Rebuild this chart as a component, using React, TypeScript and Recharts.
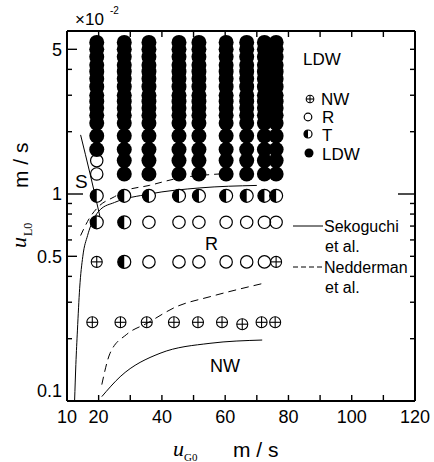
import { ComposedChart, Line, Scatter, XAxis, YAxis } from 'recharts'

// gas velocity columns (m/s) of the measured points
const gasCols = [19.4, 28.1, 35.9, 45.4, 51.7, 60.3, 66.8, 72.4, 76.1]
// liquid velocity levels (x10^-2 m/s)
const denseLevels = [2.2, 2.4, 2.6, 2.8, 3.0, 3.3, 3.6, 3.9, 4.2, 4.6, 5.0, 5.4]
const ldwRows = [1.25, 1.45, 1.64, 1.91]
const ldwCol1Rows = [1.64, 1.91]
const rCol1Rows = [1.25, 1.45]
const tRow = 0.98
const midRow = 0.73
const lowRow = 0.47
const nwRowX = [18.0, 26.9, 35.2, 43.8, 51.4, 59.0, 65.4, 71.5, 75.8]
const nwRowY = [0.24, 0.24, 0.24, 0.24, 0.24, 0.24, 0.235, 0.24, 0.24]

// boundary curves
const sekoS = [
  { x: 14.3, y: 1.93 },
  { x: 17.3, y: 1.25 },
  { x: 20.4, y: 0.78 },
]
const sekoMain = [
  { x: 12.4, y: 0.1 },
  { x: 12.8, y: 0.15 },
  { x: 13.3, y: 0.22 },
  { x: 14.0, y: 0.35 },
  { x: 15.0, y: 0.5 },
  { x: 16.5, y: 0.63 },
  { x: 18.5, y: 0.76 },
  { x: 20.5, y: 0.84 },
  { x: 25, y: 0.91 },
  { x: 36, y: 1.0 },
  { x: 52, y: 1.07 },
  { x: 70, y: 1.1 },
]
const sekoLow = [
  { x: 21, y: 0.105 },
  { x: 26.8, y: 0.131 },
  { x: 39.4, y: 0.17 },
  { x: 55.2, y: 0.19 },
  { x: 71.7, y: 0.197 },
]
const nedUpper = [
  { x: 14.3, y: 0.63 },
  { x: 17, y: 0.76 },
  { x: 20, y: 0.87 },
  { x: 25, y: 0.97 },
  { x: 28, y: 1.03 },
  { x: 36, y: 1.1 },
  { x: 45, y: 1.19 },
  { x: 55, y: 1.24 },
  { x: 64, y: 1.26 },
]
const nedLower = [
  { x: 21, y: 0.12 },
  { x: 23.6, y: 0.17 },
  { x: 28.9, y: 0.21 },
  { x: 35.2, y: 0.237 },
  { x: 44.7, y: 0.286 },
  { x: 55.2, y: 0.319 },
  { x: 72, y: 0.37 },
]

const xTicks = [10, 20, 30, 40, 50, 60, 70, 80, 90, 100, 110, 120]
const xLabels = [10, 20, 40, 60, 80, 100, 120]
const yTicks = [0.1, 0.2, 0.3, 0.4, 0.5, 0.6, 0.7, 0.8, 0.9, 1, 2, 3, 4, 5]
const yLabels = [0.1, 0.5, 1, 5]

const ldwData = [
  ...gasCols.flatMap((x) => denseLevels.map((y) => ({ x, y }))),
  ...gasCols.slice(1).flatMap((x) => ldwRows.map((y) => ({ x, y }))),
  ...ldwCol1Rows.map((y) => ({ x: gasCols[0], y })),
]
const rData = [
  ...rCol1Rows.map((y) => ({ x: gasCols[0], y })),
  ...gasCols.slice(2).map((x) => ({ x, y: midRow })),
  ...gasCols.slice(2, 8).map((x) => ({ x, y: lowRow })),
]
const tData = [
  ...gasCols.map((x) => ({ x, y: tRow })),
  ...gasCols.slice(0, 2).map((x) => ({ x, y: midRow })),
  { x: gasCols[1], y: lowRow },
]
const nwData = [
  ...nwRowX.map((x, i) => ({ x, y: nwRowY[i] })),
  { x: gasCols[0], y: lowRow },
  { x: gasCols[8], y: lowRow },
]

const FONT = '"Liberation Sans", Arial, sans-serif'
const SERIF = '"Liberation Serif", "Times New Roman", serif'

// plot frame edges (follow from the chart margins + axis sizes)
const LEFT = 67
const RIGHT = 415
const TOP = 31
const BOTTOM = 401

function filled(cx: number, cy: number, r: number) {
  return <circle cx={cx} cy={cy} r={r} fill="#000" />
}
function open(cx: number, cy: number, r: number) {
  return <circle cx={cx} cy={cy} r={r} fill="none" stroke="#000" strokeWidth={1.2} />
}
function half(cx: number, cy: number, r: number) {
  return (
    <g>
      <circle cx={cx} cy={cy} r={r} fill="#fff" stroke="#000" strokeWidth={1.2} />
      <path d={`M${cx},${cy - r} A${r},${r} 0 0 0 ${cx},${cy + r} Z`} fill="#000" />
    </g>
  )
}
function cross(cx: number, cy: number, r: number) {
  return (
    <g stroke="#000" strokeWidth={1.1} fill="none">
      <circle cx={cx} cy={cy} r={r} />
      <line x1={cx - r} x2={cx + r} y1={cy} y2={cy} />
      <line x1={cx} x2={cx} y1={cy - r} y2={cy + r} />
    </g>
  )
}

function LeftTick(props: any) {
  const { y, payload } = props
  const v = payload.value
  const len = v === 1 ? 16 : yLabels.includes(v) ? 10 : 5
  return (
    <g>
      {v > 0.1 && <line x1={LEFT} x2={LEFT + len} y1={y} y2={y} stroke="#000" strokeWidth={1.4} />}
      {yLabels.includes(v) && (
        <text x={LEFT - 5} y={v === 0.1 ? y - 10 : y} dy="0.36em" textAnchor="end" fontSize={18} fontFamily={FONT} fill="#000">
          {v}
        </text>
      )}
    </g>
  )
}
function RightTick(props: any) {
  const { y, payload } = props
  const v = payload.value
  const len = v === 1 ? 17 : 5
  if (v <= 0.1) return <g />
  return <line x1={RIGHT} x2={RIGHT - len} y1={y} y2={y} stroke="#000" strokeWidth={1.4} />
}
// bottom axis ticks; the mirrored top-frame ticks share the same x
function BottomTick(props: any) {
  const { x, payload } = props
  const v = payload.value
  const inner = v > 10 && v < 120
  return (
    <g>
      {inner && <line x1={x} x2={x} y1={BOTTOM} y2={BOTTOM - 6} stroke="#000" strokeWidth={1.4} />}
      {inner && <line x1={x} x2={x} y1={TOP} y2={TOP + 6} stroke="#000" strokeWidth={1.4} />}
      {xLabels.includes(v) && (
        <text x={x} y={BOTTOM + 22} textAnchor="middle" fontSize={18} fontFamily={FONT} fill="#000">
          {v}
        </text>
      )}
    </g>
  )
}

export default function App() {
  return (
    <div style={{ position: 'absolute', left: 0, top: 0, width: 434, height: 462, background: '#fff', overflow: 'hidden' }}>
      <ComposedChart width={434} height={462} margin={{ top: TOP - 10, right: 434 - RIGHT - 10, bottom: 462 - BOTTOM - 10, left: LEFT - 10 }}>
        <XAxis
          dataKey="x"
          type="number"
          domain={[10, 120]}
          allowDataOverflow
          ticks={xTicks}
          interval={0}
          height={10}
          tickSize={0}
          tickMargin={0}
          tickLine={false}
          tick={<BottomTick />}
          axisLine={{ stroke: '#000', strokeWidth: 2 }}
        />
        <XAxis
          xAxisId="top"
          orientation="top"
          type="number"
          domain={[10, 120]}
          allowDataOverflow
          height={10}
          tick={false}
          tickLine={false}
          axisLine={{ stroke: '#000', strokeWidth: 2 }}
        />
        <YAxis
          dataKey="y"
          type="number"
          scale="log"
          domain={[0.1, 6.13]}
          allowDataOverflow
          ticks={yTicks}
          interval={0}
          width={10}
          tickSize={0}
          tickMargin={0}
          tickLine={false}
          tick={<LeftTick />}
          axisLine={{ stroke: '#000', strokeWidth: 2 }}
        />
        <YAxis
          yAxisId="right"
          orientation="right"
          type="number"
          scale="log"
          domain={[0.1, 6.13]}
          allowDataOverflow
          ticks={yTicks}
          interval={0}
          width={10}
          tickSize={0}
          tickMargin={0}
          tickLine={false}
          tick={<RightTick />}
          axisLine={{ stroke: '#000', strokeWidth: 2 }}
        />
        <Scatter data={ldwData} isAnimationActive={false} shape={(p: any) => filled(p.cx, p.cy, 7.5)} />
        <Scatter data={rData} isAnimationActive={false} shape={(p: any) => open(p.cx, p.cy, 6.2)} />
        <Scatter data={tData} isAnimationActive={false} shape={(p: any) => half(p.cx, p.cy, 6.5)} />
        <Scatter data={nwData} isAnimationActive={false} shape={(p: any) => cross(p.cx, p.cy, 5.5)} />
        <Line data={sekoS} dataKey="y" type="monotone" stroke="#000" strokeWidth={1} dot={false} isAnimationActive={false} />
        <Line data={sekoMain} dataKey="y" type="monotone" stroke="#000" strokeWidth={1} dot={false} isAnimationActive={false} />
        <Line data={sekoLow} dataKey="y" type="monotone" stroke="#000" strokeWidth={1} dot={false} isAnimationActive={false} />
        <Line data={nedUpper} dataKey="y" type="monotone" stroke="#000" strokeWidth={1} strokeDasharray="7 5" dot={false} isAnimationActive={false} />
        <Line data={nedLower} dataKey="y" type="monotone" stroke="#000" strokeWidth={1} strokeDasharray="8 5" dot={false} isAnimationActive={false} />
      </ComposedChart>
      <svg width={434} height={462} style={{ position: 'absolute', left: 0, top: 0, pointerEvents: 'none' }}>
        <g fontFamily={FONT} fill="#000">
          <text x={75} y={25} fontSize={17}>×10</text>
          <text x={110} y={14} fontSize={10}>-2</text>

          <text x={303} y={65} fontSize={17}>LDW</text>
          {cross(310, 99, 3.8)}
          <text x={321} y={105} fontSize={17}>NW</text>
          {open(308, 117, 3.8)}
          <text x={322} y={123} fontSize={17}>R</text>
          {half(308, 134, 4)}
          <text x={322} y={141} fontSize={17}>T</text>
          {filled(309, 153, 4.5)}
          <text x={322} y={160} fontSize={17}>LDW</text>

          <text x={75} y={188} fontSize={19}>S</text>
          <text x={205} y={250} fontSize={18}>R</text>
          <text x={210} y={372} fontSize={18}>NW</text>

          <line x1={293} x2={323} y1={226} y2={226} stroke="#000" strokeWidth={1} />
          <text x={324} y={232} fontSize={16}>Sekoguchi</text>
          <text x={325} y={252} fontSize={16}>et  al.</text>
          <line x1={293} x2={323} y1={267} y2={267} stroke="#000" strokeWidth={1} strokeDasharray="5 3" />
          <text x={324} y={273} fontSize={16}>Nedderman</text>
          <text x={325} y={293} fontSize={16}>et  al.</text>

          <text x={173} y={456} fontSize={22} fontStyle="italic" fontFamily={SERIF}>u</text>
          <text x={184} y={461} fontSize={11} fontFamily={SERIF}>G0</text>
          <text x={233} y={457} fontSize={21}>m / s</text>

          <text transform="translate(26,248) rotate(-90)" fontSize={22} fontStyle="italic" fontFamily={SERIF}>u</text>
          <text transform="translate(32,236) rotate(-90)" fontSize={12} fontFamily={SERIF}>L0</text>
          <text transform="translate(28,188) rotate(-90)" fontSize={21}>m / s</text>
        </g>
      </svg>
    </div>
  )
}
